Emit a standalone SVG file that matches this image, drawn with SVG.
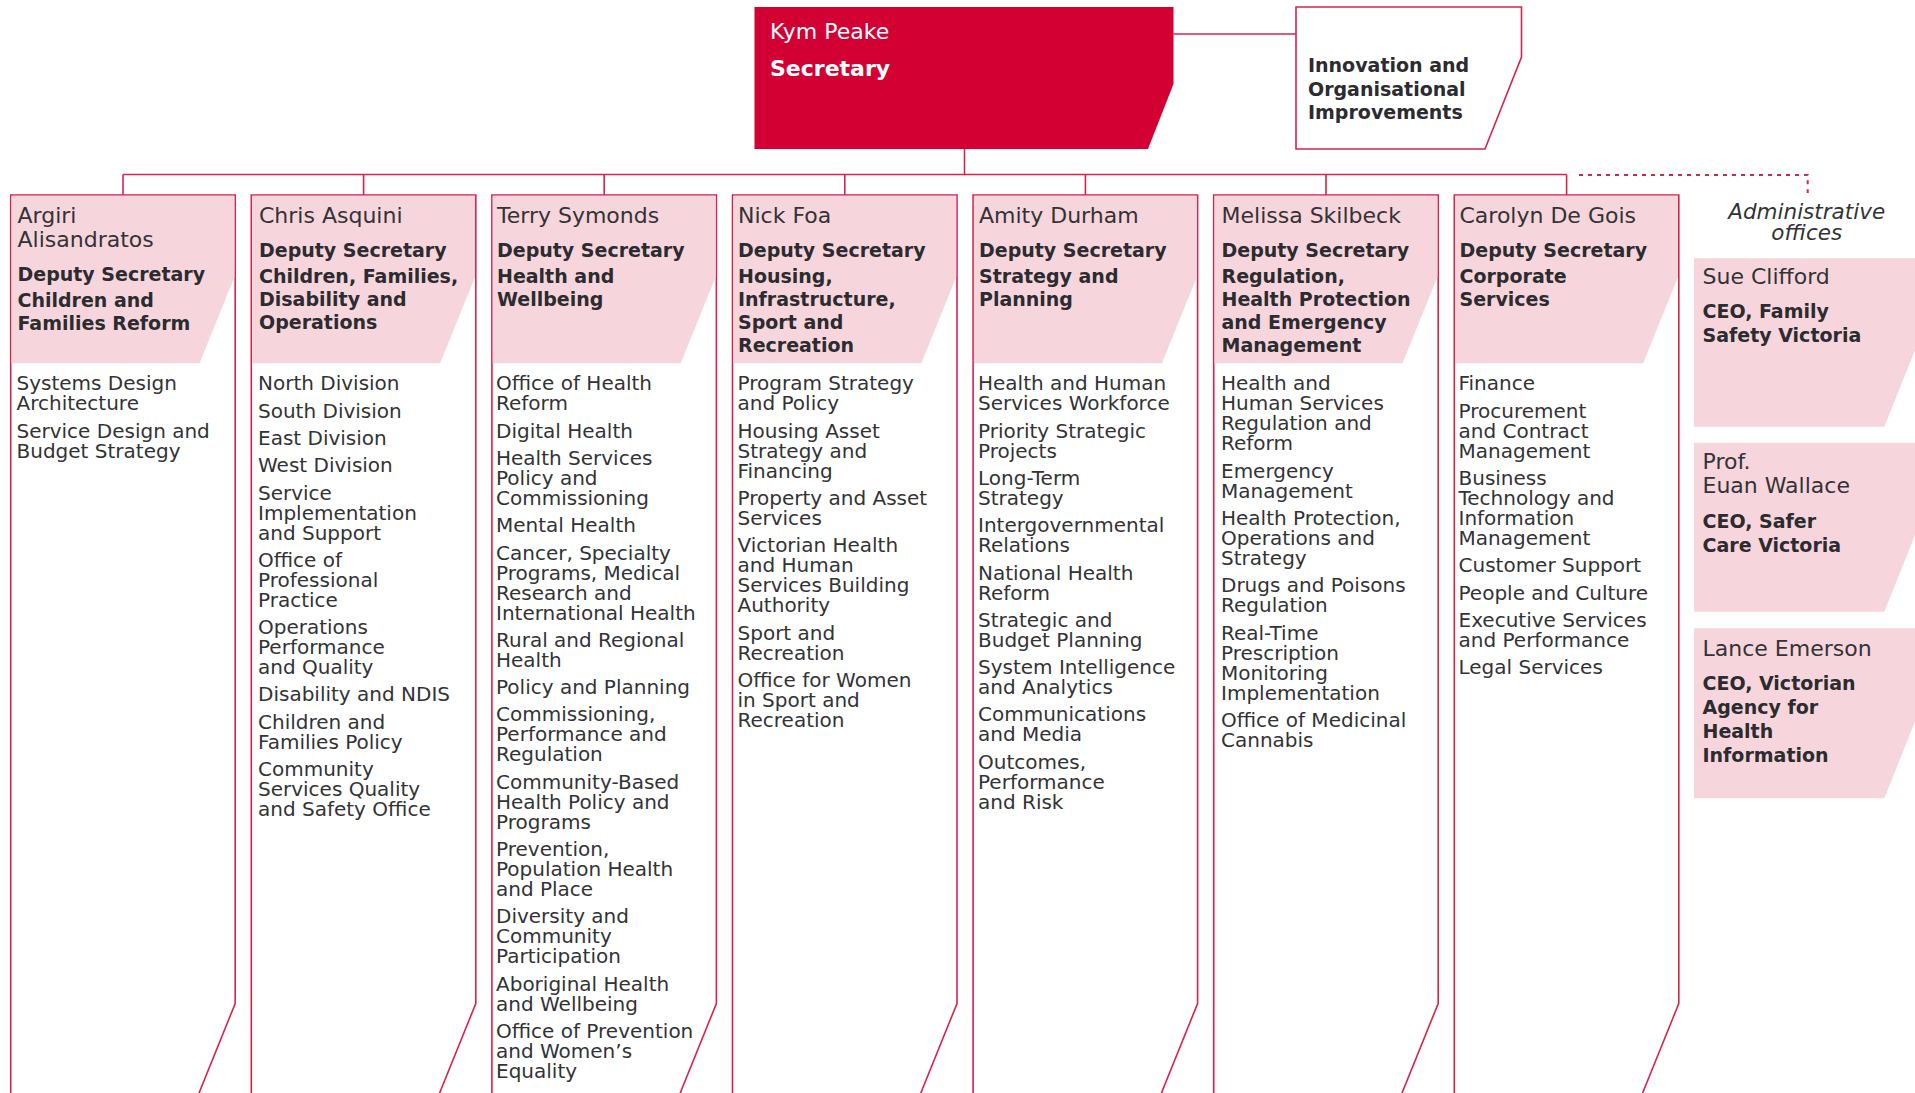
<svg xmlns="http://www.w3.org/2000/svg" width="1915" height="1093" viewBox="0 0 1915 1093">
<style>
.t{font-family:'DejaVu Sans','Liberation Sans',sans-serif;fill:#333336}
.nm{font-size:22px}
.b{font-size:19px;font-weight:bold;fill:#2b2b30}
.li{font-size:20px}
.it{font-size:21.5px;font-style:italic}
.box{fill:#ffffff;stroke:#D6234F;stroke-width:1.6}
.hdr{fill:#F6D6DC}
.conn{fill:none;stroke:#D6234F;stroke-width:1.6}
.dot{fill:none;stroke:#D6234F;stroke-width:2;stroke-dasharray:4 5}
</style>
<rect width="1915" height="1093" fill="#ffffff"/>

<g id="connectors">
<path class="conn" d="M1173.5 34H1296"/>
<path class="conn" d="M964.5 149V174.5M123 174.5H1566.6"/>
<path class="conn" d="M123 174.5V195M363.6 174.5V195M604.2 174.5V195M844.8 174.5V195M1085.4 174.5V195M1326 174.5V195M1566.6 174.5V195"/>
<path class="dot" d="M1579 175H1807.7V193"/>
</g>

<g id="secretary">
<polygon points="754.5,7 1173.5,7 1173.5,84 1148,149 754.5,149" fill="#D30033"/>
<text class="t nm" x="770" y="39.3" style="fill:#ffffff">Kym Peake</text>
<text class="t b" x="770" y="76" style="fill:#ffffff;font-size:22px">Secretary</text>
</g>

<g id="innovation">
<polygon class="box" points="1296,7 1521.5,7 1521.5,57 1485,149 1296,149"/>
<text class="t b" x="1308" y="72">Innovation and</text>
<text class="t b" x="1308" y="95.5">Organisational</text>
<text class="t b" x="1308" y="119">Improvements</text>
</g>

<g id="col1">
<polyline class="box" points="10.7,1100 10.7,195 235.2,195 235.2,1003.5 196.2,1100"/>
<polygon class="hdr" points="11.5,195.8 234.4,195.8 234.4,277 199.5,363.3 11.5,363.3"/>
<text class="t nm" x="17.5" y="222.7">Argiri</text>
<text class="t nm" x="17.5" y="246.7">Alisandratos</text>
<text class="t b" x="17.5" y="280.5">Deputy Secretary</text>
<text class="t b" x="17.5" y="307">Children and</text>
<text class="t b" x="17.5" y="330.3">Families Reform</text>
<text class="t li" x="16.5"><tspan x="16.5" y="390.3">Systems Design</tspan><tspan x="16.5" y="410.3">Architecture</tspan><tspan x="16.5" y="437.6">Service Design and</tspan><tspan x="16.5" y="457.6">Budget Strategy</tspan></text>
</g>

<g id="col2">
<polyline class="box" points="251.3,1100 251.3,195 475.8,195 475.8,1003.5 436.8,1100"/>
<polygon class="hdr" points="252.1,195.8 475,195.8 475,277 440.1,363.3 252.1,363.3"/>
<text class="t nm" x="259" y="222.7">Chris Asquini</text>
<text class="t b" x="259" y="256.5">Deputy Secretary</text>
<text class="t b" x="259" y="282.5">Children, Families,</text>
<text class="t b" x="259" y="305.8">Disability and</text>
<text class="t b" x="259" y="329.1">Operations</text>
<text class="t li"><tspan x="258" y="390.3">North Division</tspan><tspan x="258" y="417.6">South Division</tspan><tspan x="258" y="444.9">East Division</tspan><tspan x="258" y="472.2">West Division</tspan><tspan x="258" y="499.5">Service</tspan><tspan x="258" y="519.5">Implementation</tspan><tspan x="258" y="539.5">and Support</tspan><tspan x="258" y="566.8">Office of</tspan><tspan x="258" y="586.8">Professional</tspan><tspan x="258" y="606.8">Practice</tspan><tspan x="258" y="634.1">Operations</tspan><tspan x="258" y="654.1">Performance</tspan><tspan x="258" y="674.1">and Quality</tspan><tspan x="258" y="701.4">Disability and NDIS</tspan><tspan x="258" y="728.7">Children and</tspan><tspan x="258" y="748.7">Families Policy</tspan><tspan x="258" y="776">Community</tspan><tspan x="258" y="796">Services Quality</tspan><tspan x="258" y="816">and Safety Office</tspan></text>
</g>

<g id="col3">
<polyline class="box" points="491.9,1100 491.9,195 716.4,195 716.4,1003.5 677.4,1100"/>
<polygon class="hdr" points="492.7,195.8 715.6,195.8 715.6,277 680.7,363.3 492.7,363.3"/>
<text class="t nm" x="497" y="222.7">Terry Symonds</text>
<text class="t b" x="497" y="256.5">Deputy Secretary</text>
<text class="t b" x="497" y="282.5">Health and</text>
<text class="t b" x="497" y="305.8">Wellbeing</text>
<text class="t li"><tspan x="496" y="390.3">Office of Health</tspan><tspan x="496" y="410.3">Reform</tspan><tspan x="496" y="437.6">Digital Health</tspan><tspan x="496" y="464.9">Health Services</tspan><tspan x="496" y="484.9">Policy and</tspan><tspan x="496" y="504.9">Commissioning</tspan><tspan x="496" y="532.2">Mental Health</tspan><tspan x="496" y="559.5">Cancer, Specialty</tspan><tspan x="496" y="579.5">Programs, Medical</tspan><tspan x="496" y="599.5">Research and</tspan><tspan x="496" y="619.5">International Health</tspan><tspan x="496" y="646.8">Rural and Regional</tspan><tspan x="496" y="666.8">Health</tspan><tspan x="496" y="694.1">Policy and Planning</tspan><tspan x="496" y="721.4">Commissioning,</tspan><tspan x="496" y="741.4">Performance and</tspan><tspan x="496" y="761.4">Regulation</tspan><tspan x="496" y="788.7">Community-Based</tspan><tspan x="496" y="808.7">Health Policy and</tspan><tspan x="496" y="828.7">Programs</tspan><tspan x="496" y="856">Prevention,</tspan><tspan x="496" y="876">Population Health</tspan><tspan x="496" y="896">and Place</tspan><tspan x="496" y="923.3">Diversity and</tspan><tspan x="496" y="943.3">Community</tspan><tspan x="496" y="963.3">Participation</tspan><tspan x="496" y="990.6">Aboriginal Health</tspan><tspan x="496" y="1010.6">and Wellbeing</tspan><tspan x="496" y="1037.9">Office of Prevention</tspan><tspan x="496" y="1057.9">and Women’s</tspan><tspan x="496" y="1077.9">Equality</tspan></text>
</g>

<g id="col4">
<polyline class="box" points="732.5,1100 732.5,195 957,195 957,1003.5 918,1100"/>
<polygon class="hdr" points="733.3,195.8 956.2,195.8 956.2,277 921.3,363.3 733.3,363.3"/>
<text class="t nm" x="738" y="222.7">Nick Foa</text>
<text class="t b" x="738" y="256.5">Deputy Secretary</text>
<text class="t b" x="738" y="282.5">Housing,</text>
<text class="t b" x="738" y="305.8">Infrastructure,</text>
<text class="t b" x="738" y="329.1">Sport and</text>
<text class="t b" x="738" y="352.4">Recreation</text>
<text class="t li"><tspan x="737.5" y="390.3">Program Strategy</tspan><tspan x="737.5" y="410.3">and Policy</tspan><tspan x="737.5" y="437.6">Housing Asset</tspan><tspan x="737.5" y="457.6">Strategy and</tspan><tspan x="737.5" y="477.6">Financing</tspan><tspan x="737.5" y="504.9">Property and Asset</tspan><tspan x="737.5" y="524.9">Services</tspan><tspan x="737.5" y="552.2">Victorian Health</tspan><tspan x="737.5" y="572.2">and Human</tspan><tspan x="737.5" y="592.2">Services Building</tspan><tspan x="737.5" y="612.2">Authority</tspan><tspan x="737.5" y="639.5">Sport and</tspan><tspan x="737.5" y="659.5">Recreation</tspan><tspan x="737.5" y="686.8">Office for Women</tspan><tspan x="737.5" y="706.8">in Sport and</tspan><tspan x="737.5" y="726.8">Recreation</tspan></text>
</g>

<g id="col5">
<polyline class="box" points="973.1,1100 973.1,195 1197.6,195 1197.6,1003.5 1158.6,1100"/>
<polygon class="hdr" points="973.9,195.8 1196.8,195.8 1196.8,277 1161.9,363.3 973.9,363.3"/>
<text class="t nm" x="979" y="222.7">Amity Durham</text>
<text class="t b" x="979" y="256.5">Deputy Secretary</text>
<text class="t b" x="979" y="282.5">Strategy and</text>
<text class="t b" x="979" y="305.8">Planning</text>
<text class="t li"><tspan x="978" y="390.3">Health and Human</tspan><tspan x="978" y="410.3">Services Workforce</tspan><tspan x="978" y="437.6">Priority Strategic</tspan><tspan x="978" y="457.6">Projects</tspan><tspan x="978" y="484.9">Long-Term</tspan><tspan x="978" y="504.9">Strategy</tspan><tspan x="978" y="532.2">Intergovernmental</tspan><tspan x="978" y="552.2">Relations</tspan><tspan x="978" y="579.5">National Health</tspan><tspan x="978" y="599.5">Reform</tspan><tspan x="978" y="626.8">Strategic and</tspan><tspan x="978" y="646.8">Budget Planning</tspan><tspan x="978" y="674.1">System Intelligence</tspan><tspan x="978" y="694.1">and Analytics</tspan><tspan x="978" y="721.4">Communications</tspan><tspan x="978" y="741.4">and Media</tspan><tspan x="978" y="768.7">Outcomes,</tspan><tspan x="978" y="788.7">Performance</tspan><tspan x="978" y="808.7">and Risk</tspan></text>
</g>

<g id="col6">
<polyline class="box" points="1213.7,1100 1213.7,195 1438.2,195 1438.2,1003.5 1399.2,1100"/>
<polygon class="hdr" points="1214.5,195.8 1437.4,195.8 1437.4,277 1402.5,363.3 1214.5,363.3"/>
<text class="t nm" x="1221.5" y="222.7">Melissa Skilbeck</text>
<text class="t b" x="1221.5" y="256.5">Deputy Secretary</text>
<text class="t b" x="1221.5" y="282.5">Regulation,</text>
<text class="t b" x="1221.5" y="305.8">Health Protection</text>
<text class="t b" x="1221.5" y="329.1">and Emergency</text>
<text class="t b" x="1221.5" y="352.4">Management</text>
<text class="t li"><tspan x="1221" y="390.3">Health and</tspan><tspan x="1221" y="410.3">Human Services</tspan><tspan x="1221" y="430.3">Regulation and</tspan><tspan x="1221" y="450.3">Reform</tspan><tspan x="1221" y="477.6">Emergency</tspan><tspan x="1221" y="497.6">Management</tspan><tspan x="1221" y="524.9">Health Protection,</tspan><tspan x="1221" y="544.9">Operations and</tspan><tspan x="1221" y="564.9">Strategy</tspan><tspan x="1221" y="592.2">Drugs and Poisons</tspan><tspan x="1221" y="612.2">Regulation</tspan><tspan x="1221" y="639.5">Real-Time</tspan><tspan x="1221" y="659.5">Prescription</tspan><tspan x="1221" y="679.5">Monitoring</tspan><tspan x="1221" y="699.5">Implementation</tspan><tspan x="1221" y="726.8">Office of Medicinal</tspan><tspan x="1221" y="746.8">Cannabis</tspan></text>
</g>

<g id="col7">
<polyline class="box" points="1454.3,1100 1454.3,195 1678.8,195 1678.8,1003.5 1639.8,1100"/>
<polygon class="hdr" points="1455.1,195.8 1678,195.8 1678,277 1643.1,363.3 1455.1,363.3"/>
<text class="t nm" x="1459.5" y="222.7">Carolyn De Gois</text>
<text class="t b" x="1459.5" y="256.5">Deputy Secretary</text>
<text class="t b" x="1459.5" y="282.5">Corporate</text>
<text class="t b" x="1459.5" y="305.8">Services</text>
<text class="t li"><tspan x="1458.5" y="390.3">Finance</tspan><tspan x="1458.5" y="417.6">Procurement</tspan><tspan x="1458.5" y="437.6">and Contract</tspan><tspan x="1458.5" y="457.6">Management</tspan><tspan x="1458.5" y="484.9">Business</tspan><tspan x="1458.5" y="504.9">Technology and</tspan><tspan x="1458.5" y="524.9">Information</tspan><tspan x="1458.5" y="544.9">Management</tspan><tspan x="1458.5" y="572.2">Customer Support</tspan><tspan x="1458.5" y="599.5">People and Culture</tspan><tspan x="1458.5" y="626.8">Executive Services</tspan><tspan x="1458.5" y="646.8">and Performance</tspan><tspan x="1458.5" y="674.1">Legal Services</tspan></text>
</g>

<g id="admin-label">
<text class="t it" x="1806.7" y="219.3" text-anchor="middle">Administrative</text>
<text class="t it" x="1806.7" y="240" text-anchor="middle">offices</text>
</g>

<g id="admin1">
<polygon class="hdr" points="1694,258.3 1915,258.3 1915,350 1884.3,426.7 1694,426.7"/>
<text class="t nm" x="1702.5" y="284">Sue Clifford</text>
<text class="t b" x="1702.5" y="318.3">CEO, Family</text>
<text class="t b" x="1702.5" y="341.7">Safety Victoria</text>
</g>

<g id="admin2">
<polygon class="hdr" points="1694,442.7 1915,442.7 1915,535 1884.3,611.7 1694,611.7"/>
<text class="t nm" x="1702.5" y="469.3">Prof.</text>
<text class="t nm" x="1702.5" y="493.3">Euan Wallace</text>
<text class="t b" x="1702.5" y="528.3">CEO, Safer</text>
<text class="t b" x="1702.5" y="551.7">Care Victoria</text>
</g>

<g id="admin3">
<polygon class="hdr" points="1694,628.3 1915,628.3 1915,721.6 1884.3,798.3 1694,798.3"/>
<text class="t nm" x="1702.5" y="656">Lance Emerson</text>
<text class="t b" x="1702.5" y="690">CEO, Victorian</text>
<text class="t b" x="1702.5" y="713.5">Agency for</text>
<text class="t b" x="1702.5" y="738">Health</text>
<text class="t b" x="1702.5" y="761.7">Information</text>
</g>
</svg>
